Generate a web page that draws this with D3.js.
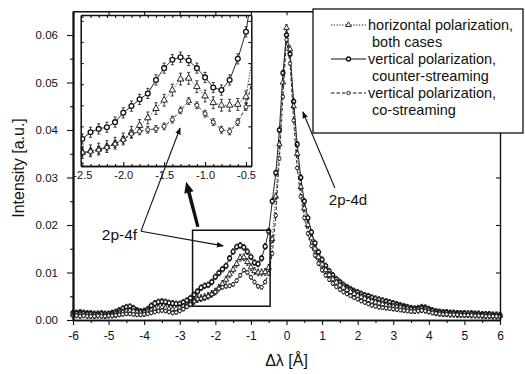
<!DOCTYPE html>
<html><head><meta charset="utf-8">
<script src="https://cdn.jsdelivr.net/npm/d3@7"></script>
<style>
body{margin:0;background:#fff}
svg text{font-family:"Liberation Sans",Arial,sans-serif;fill:#111}
</style></head><body>
<svg id="c" width="525" height="374"></svg>
<script>
// ---- data ----
const xStart = -6, xStep = 0.1, nPts = 121;
const dLambda = d3.range(nPts).map(i => +(xStart + i * xStep).toFixed(2));

// vertical polarization, counter-streaming
const counterStreaming = [
0.0015,0.0015,0.0016,0.0015,0.0014,0.0014,0.0013,0.0013,0.0014,0.0013,
0.0013,0.0015,0.0017,0.0020,0.0024,0.0027,0.0028,0.0025,0.0020,0.0018,
0.0019,0.0023,0.0030,0.0035,0.0038,0.0039,0.0038,0.0036,0.0035,0.0034,
0.0034,0.0037,0.0041,0.0046,0.0053,
0.0060,0.0068,0.0072,0.0074,0.0080,0.0091,0.0099,0.0107,0.0114,0.0130,0.0144,0.0154,0.0157,0.0153,0.0144,0.0133,0.0121,0.0118,0.0130,0.0155,0.0187,
0.0250,0.0310,0.0400,0.0520,
0.0600,
0.0560,0.0460,0.0370,0.0300,0.0250,0.0215,0.0185,0.0162,0.0143,0.0127,
0.0114,0.0103,0.0094,0.0086,0.0080,0.0074,0.0069,0.0065,0.0061,0.0058,
0.0055,0.0052,0.0050,0.0047,0.0045,0.0043,0.0041,0.0039,0.0037,0.0035,
0.0033,0.0031,0.0029,0.0027,0.0025,0.0024,0.0025,0.0027,0.0026,0.0023,
0.0020,0.0018,0.0017,0.0016,0.0016,0.0015,0.0015,0.0014,0.0014,0.0014,
0.0013,0.0014,0.0013,0.0013,0.0012,0.0012,0.0012,0.0011,0.0011,0.0010];

// horizontal polarization, both cases
const horizontal = [
0.0012,0.0012,0.0011,0.0012,0.0011,0.0011,0.0010,0.0011,0.0011,0.0010,
0.0011,0.0011,0.0012,0.0014,0.0016,0.0018,0.0019,0.0018,0.0016,0.0015,
0.0015,0.0017,0.0020,0.0023,0.0025,0.0026,0.0025,0.0023,0.0022,0.0023,
0.0025,0.0028,0.0031,0.0035,0.0040,
0.0044,0.0046,0.0048,0.0051,0.0055,0.0060,0.0068,0.0076,0.0085,0.0096,0.0106,0.0118,0.0131,0.0132,0.0122,0.0111,0.0103,0.0100,0.0100,0.0101,0.0110,
0.0170,0.0260,0.0370,0.0500,
0.0615,
0.0570,0.0450,0.0350,0.0280,0.0235,0.0200,0.0172,0.0150,0.0132,0.0117,
0.0105,0.0095,0.0086,0.0079,0.0073,0.0068,0.0063,0.0059,0.0055,0.0051,
0.0048,0.0045,0.0042,0.0039,0.0037,0.0035,0.0033,0.0031,0.0029,0.0028,
0.0027,0.0026,0.0024,0.0023,0.0022,0.0021,0.0022,0.0023,0.0022,0.0020,
0.0018,0.0016,0.0015,0.0014,0.0014,0.0013,0.0013,0.0012,0.0012,0.0012,
0.0012,0.0011,0.0011,0.0011,0.0010,0.0010,0.0010,0.0009,0.0009,0.0009];

// vertical polarization, co-streaming
const coStreaming = [
0.0009,0.0009,0.0008,0.0009,0.0008,0.0008,0.0008,0.0009,0.0008,0.0008,
0.0009,0.0009,0.0010,0.0011,0.0012,0.0013,0.0013,0.0012,0.0011,0.0011,
0.0012,0.0013,0.0015,0.0017,0.0019,0.0020,0.0019,0.0017,0.0015,0.0016,
0.0019,0.0023,0.0028,0.0033,0.0039,
0.0044,0.0045,0.0047,0.0050,0.0054,0.0059,0.0066,0.0069,0.0071,0.0072,0.0075,0.0083,0.0094,0.0105,0.0100,0.0090,0.0080,0.0071,0.0069,0.0080,0.0098,
0.0140,0.0220,0.0340,0.0470,
0.0590,
0.0540,0.0420,0.0320,0.0260,0.0215,0.0182,0.0156,0.0136,0.0119,0.0105,
0.0094,0.0085,0.0077,0.0070,0.0064,0.0059,0.0055,0.0051,0.0047,0.0044,
0.0040,0.0037,0.0034,0.0031,0.0029,0.0027,0.0026,0.0025,0.0024,0.0023,
0.0022,0.0021,0.0020,0.0019,0.0018,0.0018,0.0019,0.0020,0.0019,0.0017,
0.0015,0.0014,0.0013,0.0012,0.0012,0.0011,0.0011,0.0011,0.0010,0.0010,
0.0010,0.0010,0.0009,0.0009,0.0009,0.0008,0.0008,0.0008,0.0008,0.0007];

const errorBars = [0.0006, 0.0007, 0.0004];   // counter, horizontal, co
const seriesKeys = ["counter", "horizontal", "co"];
const legendLines = [
  ["horizontal polarization,", "both cases"],
  ["vertical polarization,", "counter-streaming"],
  ["vertical polarization,", "co-streaming"]];
const legendKeys = ["horizontal", "counter", "co"];
const xTicks = d3.range(-6, 7, 1);
const xMinor = d3.range(-5.5, 6, 1);
const yTicks = [0, 0.01, 0.02, 0.03, 0.04, 0.05, 0.06];
const yMinor = [0.005, 0.015, 0.025, 0.035, 0.045, 0.055];
const insetXTicks = [-2.5, -2.0, -1.5, -1.0, -0.5];
const insetXMinor = [-2.4,-2.3,-2.2,-2.1,-1.9,-1.8,-1.7,-1.6,-1.4,-1.3,-1.2,-1.1,-0.9,-0.8,-0.7,-0.6];
const insetYTicks = [0.005, 0.0075, 0.01, 0.0125, 0.015, 0.0175, 0.02];

// ---- setup ----
const svg = d3.select("#c");
const x = d3.scaleLinear().domain([-6, 6]).range([73, 500]);
const y = d3.scaleLinear().domain([0, 0.065]).range([320, 11.25]);
const xi = d3.scaleLinear().domain([-2.52, -0.435]).range([80.7, 251.3]);
const yi = d3.scaleLinear().domain([0.0028, 0.0207]).range([166, 15]);

const valuesByKey = {counter: counterStreaming, horizontal: horizontal, co: coStreaming};
const series = seriesKeys.map((k, si) => ({
  key: k, err: errorBars[si],
  pts: dLambda.map((d, i) => ({x: d, v: valuesByKey[k][i]}))
}));
const style = {
  counter:    {dash: null,  shape: "circleBold"},
  horizontal: {dash: "1.2,1.6", shape: "triangle"},
  co:         {dash: "3.5,2", shape: "circleOpen"}
};

function drawMarker(g, shape, cx, cy, s) {
  if (shape === "triangle") {
    g.append("path").attr("d", d3.symbol(d3.symbolTriangle, s * s * 3.2)())
      .attr("transform", `translate(${cx},${cy})`)
      .attr("fill", "#fff").attr("stroke", "#111").attr("stroke-width", 0.9);
  } else {
    g.append("circle").attr("cx", cx).attr("cy", cy).attr("r", shape === "circleOpen" ? s * 0.85 : s)
      .attr("fill", "#fff")
      .attr("stroke", "#111").attr("stroke-width", shape === "circleBold" ? 1.3 : 0.9);
  }
}

function drawSeries(g, sx, sy, filt, mr, cap) {
  series.forEach(s => {
    const pts = s.pts.filter(filt);
    const st = style[s.key];
    g.append("path").datum(pts)
      .attr("d", d3.line().x(d => sx(d.x)).y(d => sy(d.v)))
      .attr("fill", "none").attr("stroke", "#111").attr("stroke-width", 0.9)
      .attr("stroke-dasharray", st.dash);
    const eb = g.append("g").attr("stroke", "#111").attr("stroke-width", 0.8);
    pts.forEach(p => {
      const X = sx(p.x), y0 = sy(p.v - s.err), y1 = sy(p.v + s.err);
      eb.append("line").attr("x1", X).attr("x2", X).attr("y1", y0).attr("y2", y1);
      eb.append("line").attr("x1", X - cap).attr("x2", X + cap).attr("y1", y0).attr("y2", y0);
      eb.append("line").attr("x1", X - cap).attr("x2", X + cap).attr("y1", y1).attr("y2", y1);
    });
    const mg = g.append("g");
    pts.forEach(p => drawMarker(mg, st.shape, sx(p.x), sy(p.v), mr));
  });
}

function styleAxis(g, w) {
  g.select(".domain").attr("stroke", "#111").attr("stroke-width", w);
  g.selectAll(".tick line").attr("stroke", "#111").attr("stroke-width", 1.1);
  g.attr("font-family", null).attr("font-size", null);
}

// ---- main data ----
drawSeries(svg.append("g"), x, y, () => true, 2.0, 1.2);

// ---- main axes ----
const L = x.range()[0], R = x.range()[1], B = y.range()[0], T = y.range()[1];
let ax;
ax = svg.append("g").attr("transform", `translate(${L},0)`)
  .call(d3.axisLeft(y).tickValues(yTicks).tickFormat(d3.format(".2f")).tickSize(6).tickSizeOuter(0).tickPadding(9));
styleAxis(ax, 1.8); ax.selectAll("text").style("font-size", "11.5px");
ax = svg.append("g").attr("transform", `translate(${L},0)`)
  .call(d3.axisLeft(y).tickValues(yMinor).tickFormat("").tickSize(3).tickSizeOuter(0));
styleAxis(ax, 1.8);
ax = svg.append("g").attr("transform", `translate(0,${B})`)
  .call(d3.axisBottom(x).tickValues(xTicks).tickFormat(d => String(d)).tickSize(5).tickSizeOuter(0).tickPadding(6));
styleAxis(ax, 1.6); ax.selectAll("text").style("font-size", "12px");
ax = svg.append("g").attr("transform", `translate(0,${B})`)
  .call(d3.axisBottom(x).tickValues(xMinor).tickFormat("").tickSize(3).tickSizeOuter(0));
styleAxis(ax, 1.6);
ax = svg.append("g").attr("transform", `translate(0,${T})`)
  .call(d3.axisTop(x).tickValues(xTicks).tickFormat("").tickSize(-4).tickSizeOuter(0));
styleAxis(ax, 1.4);
ax = svg.append("g").attr("transform", `translate(${R},0)`)
  .call(d3.axisRight(y).tickValues(yTicks).tickFormat("").tickSize(-4).tickSizeOuter(0));
styleAxis(ax, 1.4);

svg.append("text").attr("transform", `translate(18,168) rotate(-90)`)
  .attr("text-anchor", "middle").attr("dominant-baseline", "central")
  .style("font-size", "16px").text("Intensity [a.u.]");
svg.append("text").attr("x", (L + R) / 2).attr("y", 366).attr("text-anchor", "middle")
  .style("font-size", "16px").text("Δλ [Å]");

// ---- inset ----
const ig = svg.append("g");
ig.append("rect").attr("x", xi.range()[0]).attr("y", yi.range()[1])
  .attr("width", xi.range()[1] - xi.range()[0]).attr("height", yi.range()[0] - yi.range()[1])
  .attr("fill", "#fff");
svg.append("clipPath").attr("id", "ic").append("rect")
  .attr("x", xi.range()[0]).attr("y", yi.range()[1])
  .attr("width", xi.range()[1] - xi.range()[0]).attr("height", yi.range()[0] - yi.range()[1]);
drawSeries(ig.append("g").attr("clip-path", "url(#ic)"), xi, yi,
  d => d.x >= -2.6 && d.x <= -0.35, 2.4, 1.6);
const iL = xi.range()[0], iR = xi.range()[1], iB = yi.range()[0], iT = yi.range()[1];
ax = ig.append("g").attr("transform", `translate(0,${iB})`)
  .call(d3.axisBottom(xi).tickValues(insetXTicks).tickFormat(d => d.toFixed(1)).tickSize(-4).tickSizeOuter(0).tickPadding(5));
styleAxis(ax, 1.5); ax.selectAll("text").style("font-size", "11px");
ax = ig.append("g").attr("transform", `translate(0,${iB})`)
  .call(d3.axisBottom(xi).tickValues(insetXMinor).tickFormat("").tickSize(-2).tickSizeOuter(0));
styleAxis(ax, 1.5);
ax = ig.append("g").attr("transform", `translate(0,${iT})`)
  .call(d3.axisTop(xi).tickValues(insetXTicks.concat(insetXMinor)).tickFormat("").tickSize(-3).tickSizeOuter(0));
styleAxis(ax, 1.5);
ax = ig.append("g").attr("transform", `translate(${iL},0)`)
  .call(d3.axisLeft(yi).tickValues(insetYTicks).tickFormat("").tickSize(-3).tickSizeOuter(0));
styleAxis(ax, 1.5);
ax = ig.append("g").attr("transform", `translate(${iR},0)`)
  .call(d3.axisRight(yi).tickValues(insetYTicks).tickFormat("").tickSize(-3).tickSizeOuter(0));
styleAxis(ax, 1.5);

// ---- annotations ----
const defs = svg.append("defs");
defs.append("marker").attr("id", "ah").attr("viewBox", "0 0 10 10").attr("refX", 9).attr("refY", 5)
  .attr("markerWidth", 7).attr("markerHeight", 7).attr("markerUnits", "userSpaceOnUse").attr("orient", "auto")
  .append("path").attr("d", "M0,1 L10,5 L0,9 Z").attr("fill", "#111");

// zoom rectangle in main plot
const rx0 = -2.64, rx1 = -0.46, ry0 = 0.0029, ry1 = 0.0189;
svg.append("rect").attr("x", x(rx0)).attr("y", y(ry1)).attr("width", x(rx1) - x(rx0)).attr("height", y(ry0) - y(ry1))
  .attr("fill", "none").attr("stroke", "#111").attr("stroke-width", 1.5);

// thick arrow from rectangle to inset
{
  const x0 = x(-2.49), y0 = y(0.0196), x1 = x(-2.82), y1 = y(0.0291);
  const ang = Math.atan2(y1 - y0, x1 - x0), len = Math.hypot(x1 - x0, y1 - y0);
  const g = svg.append("g").attr("transform", `translate(${x0},${y0}) rotate(${ang * 180 / Math.PI})`);
  g.append("path").attr("d", `M0,-1.6 L${len - 11},-1.8 L${len - 11},-4.8 L${len},0 L${len - 11},4.8 L${len - 11},1.8 L0,1.6 Z`)
    .attr("fill", "#111");
}

// 2p-4f label and arrows
svg.append("text").attr("x", x(-5.19)).attr("y", y(0.0168)).style("font-size", "15.5px").text("2p-4f");
svg.append("line").attr("x1", x(-4.09)).attr("y1", y(0.0187)).attr("x2", xi(-1.305)).attr("y2", yi(0.0073))
  .attr("stroke", "#111").attr("stroke-width", 1.1).attr("marker-end", "url(#ah)");
svg.append("line").attr("x1", x(-4.09)).attr("y1", y(0.0187)).attr("x2", x(-1.78)).attr("y2", y(0.0156))
  .attr("stroke", "#111").attr("stroke-width", 1.1).attr("marker-end", "url(#ah)");

// 2p-4d label and arrow
svg.append("text").attr("x", x(1.19)).attr("y", y(0.0242)).style("font-size", "15px").text("2p-4d");
svg.append("line").attr("x1", x(1.36)).attr("y1", y(0.0278)).attr("x2", x(0.46)).attr("y2", y(0.0438))
  .attr("stroke", "#111").attr("stroke-width", 1.1).attr("marker-end", "url(#ah)");

// ---- legend ----
const lg = svg.append("g");
lg.append("rect").attr("x", 313).attr("y", 9).attr("width", 210).attr("height", 124)
  .attr("fill", "#fff").attr("stroke", "#111").attr("stroke-width", 1.3);
legendKeys.forEach((k, i) => {
  const cy = 25 + i * 34;
  const st = style[k];
  lg.append("line").attr("x1", 331).attr("x2", 366).attr("y1", cy).attr("y2", cy)
    .attr("stroke", "#111").attr("stroke-width", 1).attr("stroke-dasharray", st.dash);
  drawMarker(lg, st.shape, 348.5, cy, 2.0);
  lg.append("text").attr("x", 368).attr("y", cy + 5).style("font-size", "14.5px").text(legendLines[i][0]);
  lg.append("text").attr("x", 372).attr("y", cy + 22).style("font-size", "14.5px").text(legendLines[i][1]);
});
</script>
</body></html>
